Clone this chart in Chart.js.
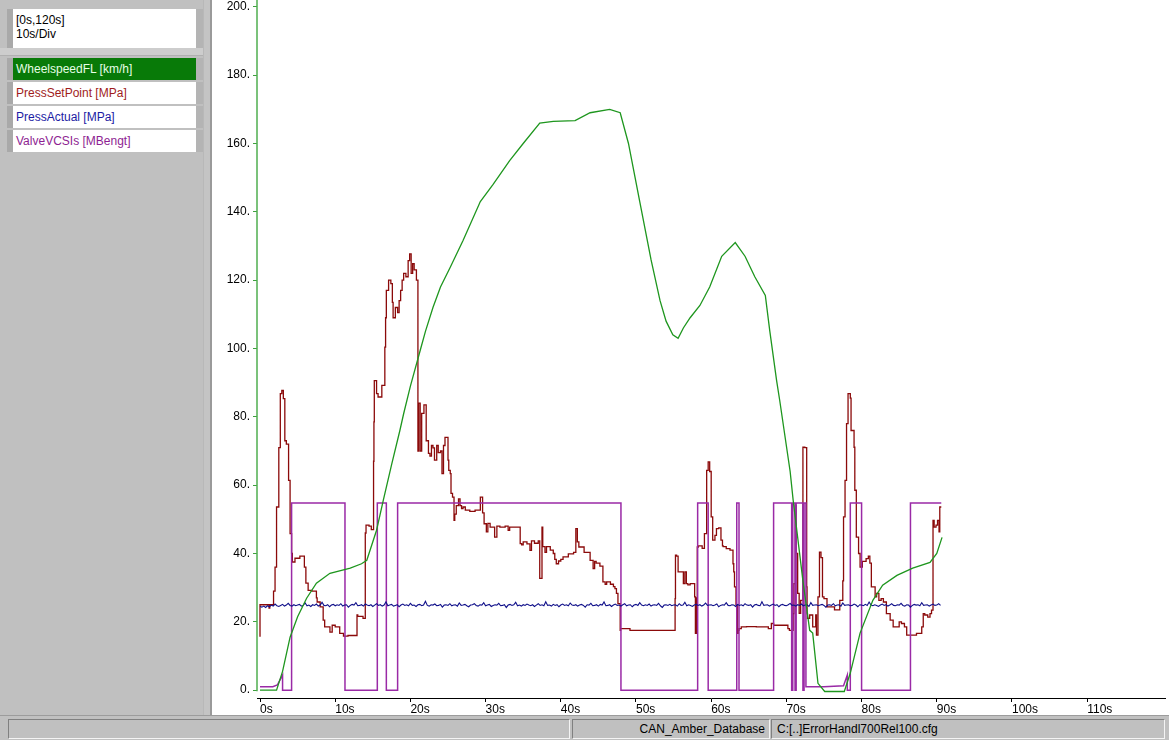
<!DOCTYPE html>
<html>
<head>
<meta charset="utf-8">
<script src="https://cdn.jsdelivr.net/npm/chart.js@4/dist/chart.umd.min.js"></script>
<style>
  html, body { margin: 0; padding: 0; }
  body {
    width: 1169px; height: 740px; overflow: hidden; position: relative;
    background: #c0c0c0; font-family: "Liberation Sans", Arial, sans-serif; font-size: 12px;
  }
  .abs { position: absolute; box-sizing: border-box; }
  #side { left: 0; top: 0; width: 203px; height: 715px; background: #c0c0c0; }
  .box {
    position: absolute; left: 7px; width: 196px; background: #fff;
    border-left: 6px solid #a9a9a9; border-right: 7px solid #b4b4b4; box-sizing: border-box;
    padding-left: 3px; white-space: nowrap;
  }
  #range { top: 9px; height: 39px; line-height: 14px; padding-top: 4px; color: #000; }
  .row { height: 22px; line-height: 22px; }
  #sep { left: 0; top: 48px; width: 203px; height: 8px; background: #cdcdcd; border-bottom: 1px solid #b0b0b0; }
  #divider { left: 203px; top: 0; width: 9px; height: 715px; background: #c4c4c4; border-left: 1px solid #b8b8b8; border-right: 2px solid #9a9a9a; }
  #plot { left: 212px; top: 0; width: 957px; height: 715px; background: #fff; }
  #status { left: 0; top: 715px; width: 1169px; height: 25px; background: #c0c0c0; border-top: 1px solid #9c9c9c; }
  .pane {
    position: absolute; top: 3px; height: 20px; line-height: 19px; box-sizing: border-box;
    border-top: 1px solid #808080; border-left: 1px solid #808080;
    border-bottom: 1px solid #f4f4f4; border-right: 1px solid #f4f4f4; white-space: nowrap; color: #000;
  }
</style>
</head>
<body>
<div id="side" class="abs">
  <div id="range" class="box">[0s,120s]<br>10s/Div</div>
  <div id="sep" class="abs"></div>
  <div id="legend"></div>
</div>
<div id="divider" class="abs"></div>
<div id="plot" class="abs"><canvas id="chart" width="957" height="715"></canvas></div>
<div id="status" class="abs">
  <div class="pane" style="left:8px; width:562px;"></div>
  <div class="pane" style="left:572px; width:198px; text-align:right; padding-right:4px;">CAN_Amber_Database</div>
  <div class="pane" style="left:771px; width:394px; padding-left:5px;">C:[..]ErrorHandl700Rel100.cfg</div>
</div>

<script>
// ---- channel names and units ----
const channelNames = ['WheelspeedFL [km/h]', 'PressSetPoint [MPa]', 'PressActual [MPa]', 'ValveVCSIs [MBengt]'];
const channelColors = ['#1e961e', '#8b0a0a', '#10108a', '#9a2aa6'];
const channelTextColors = ['#e6ffe6', '#a01c1c', '#1c1ca4', '#8e1e92'];

// ---- time axis ----
const timeTicks = [0, 10, 20, 30, 40, 50, 60, 70, 80, 90, 100, 110];
const valueTicks = [0, 20, 40, 60, 80, 100, 120, 140, 160, 180, 200];

// ---- WheelspeedFL [km/h] ----
const wheelTime = [0, 2.2, 3.0, 4.0, 5.0, 6.2, 7.5, 9.3, 12.0, 13.5, 14.2, 15.5, 16.4, 17.5, 18.6, 19.1, 20.0,
  21.3, 22.0, 23.0, 24.0, 25.3, 27.0, 29.3, 31.0, 33.2, 35.0, 37.2, 39.0, 41.9, 43.9, 46.5, 47.9,
  49.0, 50.5, 52.0, 53.2, 54.0, 54.9, 55.6, 56.3, 57.2, 58.5, 59.8, 61.4, 63.2, 64.5, 65.8, 67.2,
  67.8, 68.7, 69.1, 70.5, 70.9, 72.2, 73.1, 73.5, 74.2, 75.1, 77.7, 78.5, 79.8, 81.5, 82.8, 84.7,
  86.8, 89.1, 90.0, 90.7];
const wheelSpeed = [0, 0, 5.5, 15.5, 21.5, 26.9, 31.3, 34.2, 35.7, 37, 38, 46.8, 55.6, 66, 76, 80.9, 89,
  99.4, 105, 112, 118, 123.8, 131.6, 143, 148, 155, 160, 166, 166.5, 166.7, 169, 170, 169,
  160, 143, 126, 114, 108, 104, 103, 106, 109, 112.6, 118, 127, 131, 127, 121, 115.5,
  105, 90.6, 85, 64, 55.6, 32, 17.5, 16.7, 2, -0.4, -0.4, 5, 16.7, 26.3, 30.7, 33.6,
  35.7, 37.4, 40, 44.7];

// ---- PressSetPoint [MPa] ----
const setTime = [0, 0.05, 1.2, 1.3, 1.5, 1.8, 2.0, 2.2, 2.5, 2.7, 2.9, 3.1, 3.3, 3.5, 3.8, 4.0, 4.2, 4.3, 4.65,
  5.3, 5.9, 6.1, 6.4, 6.9, 7.5, 7.6, 8.0, 8.4, 8.6, 9.3, 9.6, 10.0, 10.6, 11.1, 11.7, 12.6, 12.9,
  13.0, 13.7, 14.0, 14.1, 14.2, 14.5, 14.8, 15.1, 15.15, 15.2, 15.5, 15.7, 16.2, 16.6, 16.7, 16.8,
  17.1, 17.4, 17.6, 17.7, 18.0, 18.3, 18.5, 18.7, 18.9, 19.1, 19.4, 19.7, 19.9, 20.1, 20.3, 20.5,
  20.8, 21.0, 21.1, 21.3, 21.5, 21.8, 22.1, 22.4, 22.6, 22.8, 23.0, 23.2, 23.5, 23.7, 24.0, 24.2,
  24.4, 24.6, 24.8, 25.0, 25.1, 25.3, 25.4, 25.6, 25.8, 25.9, 26.1, 26.4, 26.6, 26.8, 27.0, 27.3,
  27.9, 28.6, 29.3, 29.6, 29.8, 30.1, 30.3, 30.6, 31.2, 31.5, 31.9, 32.6, 33.0, 33.2, 33.7, 34.1,
  34.6, 34.8, 35.0, 35.5, 35.9, 36.1, 36.5, 37.0, 37.2, 37.5, 37.6, 37.9, 38.1, 38.6, 39.0, 39.2,
  39.4, 39.7, 40.0, 40.3, 41.0, 41.7, 42.0, 42.2, 42.4, 42.7, 43.1, 43.4, 43.9, 44.3, 44.5, 44.7,
  45.2, 45.6, 45.9, 46.1, 46.6, 47.0, 47.2, 47.4, 47.6, 47.9, 47.95, 49.2, 55.2, 55.25, 55.4, 55.6,
  55.9, 56.3, 56.5, 56.7, 56.9, 57.2, 57.8, 57.9, 58.05, 58.15, 58.3, 58.8, 59.1, 59.4, 59.6, 59.8,
  60.0, 60.2, 60.5, 60.7, 61.0, 61.3, 61.5, 61.6, 62.0, 62.5, 62.9, 63.0, 63.1, 63.3, 63.5, 63.6,
  63.7, 64.0, 64.7, 66.0, 67.6, 68.0, 68.3, 70.2, 70.4, 70.9, 71.0, 71.2, 71.3, 71.5, 71.7, 71.9,
  72.2, 72.45, 72.7, 72.75, 72.8, 73.1, 73.5, 73.9, 74.0, 74.2, 74.4, 74.6, 74.8, 75.0, 75.4, 75.7,
  76.4, 76.8, 77.1, 77.5, 77.6, 77.8, 78.0, 78.2, 78.5, 78.6, 78.8, 79.0, 79.1, 79.3, 79.6, 79.8,
  80.1, 80.3, 80.6, 80.9, 81.1, 81.3, 81.6, 81.8, 82.0, 82.3, 82.6, 82.9, 83.3, 83.8, 84.2, 84.7,
  85.0, 85.3, 85.7, 86.0, 86.2, 87.3, 88.0, 88.2, 88.4, 88.8, 89.1, 89.3, 89.5, 89.65, 89.9, 90.1,
  90.3, 90.4, 90.6];
const setPressure = [15.6, 25, 25, 24, 25, 25, 29, 36, 53.6, 71, 86.8, 87.7, 85.3, 73, 72, 61.4, 45.8, 40, 37.5,
  38.6, 39.2, 36, 31.3, 29.2, 29, 27, 25.8, 24.4, 20.5, 18.5, 17, 19, 18.5, 16.6, 15.8, 16, 16,
  22, 21.6, 21, 46, 48.3, 48.3, 48, 47, 67, 78.5, 90.6, 86.8, 85.8, 89.2, 100.4, 109,
  117, 120, 119, 113.5, 109, 112, 110.5, 114, 117, 120, 122, 121, 125.7, 127.7, 122, 124.8,
  123, 120, 70, 84, 70, 81, 83.5, 73, 69.3, 68.5, 71.6, 70.9, 67.3, 71.6, 69.5, 70,
  63.4, 71.6, 74, 74, 67.3, 64.3, 63.4, 57.6, 56.5, 49.7, 51.5, 54, 56, 54, 53.1, 53.6,
  52.7, 52.3, 52.7, 56.5, 51.9, 48.7, 46.3, 48.8, 47.7, 44.8, 48, 47.7, 48, 46.8, 47.7, 47.7,
  47.7, 42.9, 42.5, 43.4, 42.8, 40.9, 43.7, 43, 43.7, 32.7, 47.7, 42, 40.3, 42, 41, 40,
  38.3, 37, 37.8, 38.3, 39, 39.9, 40.3, 47.3, 43.4, 41.9, 41.9, 40.3, 40.3, 38, 35.6, 37.7,
  37.2, 36.3, 31.7, 31, 31.7, 31, 30.3, 29.7, 28.3, 25.3, 17.5, 18, 17.5, 26.8, 39.5, 39.2,
  34.6, 34.6, 31.2, 34.6, 31.2, 30.8, 31.2, 27.3, 16.6, 27, 41.9, 42.2, 41.5, 45.8, 64.3, 66.8,
  64, 50.7, 43.9, 45.3, 47.3, 47.5, 43.9, 42.2, 42, 41.4, 41, 37, 34.6, 30.2, 25, 16.6,
  17.5, 18, 18.5, 18.6, 18.5, 18, 19.5, 19, 18, 17.5, 22.4, 31.2, 54, 40, 28.3, 22.5,
  26.3, 71.1, 71, 30.2, 22.4, 21, 22, 18.5, 22, 16.1, 27.3, 40.4, 38.8, 27.3, 26.8, 24.4,
  24.4, 23.5, 23.5, 26.3, 32, 50.7, 61.4, 78, 86.8, 85.5, 76, 76, 71.1, 58.5, 44.8, 40,
  36, 37.7, 37.7, 38.5, 39.2, 37.2, 30.2, 30.2, 27.3, 28.3, 26.3, 26.8, 25.8, 22.4, 20.5, 18.5,
  18.5, 20, 19.5, 18.5, 16.1, 16.1, 16.6, 18.5, 22.4, 22, 21.4, 22.4, 23.4, 49.7, 47.7, 48.3,
  49.7, 46.3, 53.6];

// ---- PressActual [MPa], sampled every 0.25 s from 0 s ----
const actualStart = 0;
const actualStep = 0.25;
const actualPressure = [
  24.5, 24.3, 24.6, 24.2, 24.7, 24.4, 24.9, 24.6, 25.2, 24.7, 24.5, 24.8, 25.1, 24.6, 24.9, 25.4, 24.8, 24.6, 25.0, 24.7,
  24.9, 25.1, 24.6, 24.8, 25.5, 24.7, 24.9, 24.5, 25.0, 24.8, 25.2, 24.6, 24.9, 25.7, 24.8, 24.7, 25.0, 24.4, 24.9, 25.1,
  24.7, 25.0, 24.8, 25.3, 24.6, 24.9, 25.0, 24.3, 24.8, 25.1, 24.9, 25.6, 24.7, 24.8, 25.0, 24.6, 25.2, 24.9, 24.7, 25.0,
  24.5, 24.9, 25.3, 24.8, 25.0, 24.6, 24.9, 25.8, 24.7, 24.9, 25.1, 24.6, 24.8, 25.0, 24.4, 24.9, 25.2, 24.8, 25.0, 24.7,
  25.4, 24.8, 24.9, 24.5, 25.0, 25.1, 24.7, 24.9, 26.0, 24.8, 24.6, 25.0, 24.9, 25.2, 24.7, 24.8, 25.1, 24.3, 24.9, 25.0,
  24.8, 25.3, 24.7, 24.9, 25.0, 24.6, 25.5, 24.8, 24.9, 25.1, 24.7, 24.4, 24.9, 25.0, 25.3, 24.8, 24.6, 25.0, 24.9, 25.6,
  24.7, 24.9, 25.1, 24.5, 24.8, 25.0, 24.9, 25.4, 24.7, 24.8, 25.0, 24.2, 24.9, 25.1, 24.8, 25.0, 25.7, 24.7, 24.9, 24.6,
  25.0, 24.8, 25.2, 24.9, 24.7, 25.0, 24.5, 24.9, 25.3, 24.8, 25.0, 24.7, 25.9, 24.8, 24.9, 24.6, 25.1, 24.8, 25.0, 24.4,
  24.9, 25.2, 24.8, 25.0, 24.7, 25.5, 24.9, 24.8, 25.0, 24.6, 24.9, 25.1, 24.8, 24.3, 25.0, 24.9, 25.4, 24.7, 24.8, 25.0,
  24.6, 25.1, 24.9, 25.8, 24.7, 24.8, 25.0, 24.5, 24.9, 25.2, 24.8, 24.9, 24.6, 25.0, 25.3, 24.7, 24.9, 25.0, 24.4, 24.9,
  25.1, 24.8, 25.6, 24.9, 24.7, 25.0, 24.8, 25.2, 24.6, 24.9, 25.0, 24.8, 25.4, 24.7, 24.2, 24.9, 25.0, 24.8, 25.1, 24.7,
  24.9, 25.0, 24.6, 25.3, 24.8, 24.9, 25.7, 24.7, 25.0, 24.8, 24.5, 24.9, 25.1, 24.8, 25.0, 24.6, 24.9, 25.5, 24.8, 24.9,
  25.0, 24.7, 24.9, 25.2, 24.4, 24.8, 25.0, 24.9, 25.6, 24.8, 24.7, 25.0, 24.9, 24.5, 25.1, 24.8, 25.0, 24.7, 25.3, 24.9,
  24.8, 25.0, 24.3, 24.9, 25.1, 24.8, 24.7, 25.9, 24.8, 24.9, 25.0, 24.6, 24.9, 25.2, 24.8, 25.0, 24.4, 24.9, 25.1, 24.8,
  24.7, 25.0, 25.4, 24.8, 24.9, 24.6, 25.0, 24.8, 25.2, 24.7, 24.9, 25.0, 24.5, 25.6, 24.8, 24.9, 25.0, 24.7, 24.9, 25.1,
  24.8, 24.3, 24.9, 25.0, 24.8, 25.3, 24.7, 24.9, 25.0, 24.6, 25.5, 24.8, 24.9, 25.0, 24.7, 24.8, 25.2, 24.9, 24.4, 25.0,
  24.9, 24.7, 25.1, 24.8, 25.8, 24.9, 24.7, 25.0, 24.8, 24.5, 24.9, 25.2, 24.8, 25.0, 24.6, 24.9, 25.3, 24.8, 24.7, 25.0,
  24.9, 25.4, 24.8, 24.6, 25.0, 24.9, 24.3, 24.8, 25.1, 24.9, 25.0, 24.7, 25.6, 24.8, 24.9, 25.0, 24.6, 24.9, 25.2, 24.8,
  24.9, 25.3, 24.8
];

// ---- ValveVCSIs [MBengt] (switching signal) ----
const valveTime = [0, 1.7, 2.3, 3.0, 3.0, 4.2, 4.2, 11.3, 11.3, 15.6, 15.6, 16.8, 16.8, 18.3, 18.3,
  48.0, 48.0, 58.2, 58.2, 59.6, 59.6, 63.4, 63.4, 63.7, 63.7, 68.3, 68.3, 70.7, 70.7, 70.85, 70.85,
  71.15, 71.15, 71.3, 71.3, 72.2, 72.2, 72.35, 72.35, 72.6, 72.6, 75.0, 77.6, 78.1, 78.1, 78.5, 78.5,
  80.0, 80.0, 86.5, 86.5, 90.6];
const valveState = [1, 1, 1.5, 4.4, 0, 0, 54.8, 54.8, 0, 0, 54.8, 54.8, 0, 0, 54.8,
  54.8, 0, 0, 54.8, 54.8, 0, 0, 54.8, 54.8, 0, 0, 54.8, 54.8, 0, 0, 54.8,
  54.8, 0, 0, 54.8, 54.8, 0, 0, 54.8, 54.8, 1, 1, 1.3, 4.4, 0, 0, 54.8,
  54.8, 0, 0, 54.8, 54.8];

// ---- legend panel ----
const legendTops = [58, 82, 106, 130];
const legend = document.getElementById('legend');
channelNames.forEach((name, i) => {
  const row = document.createElement('div');
  row.className = 'box row';
  row.style.top = legendTops[i] + 'px';
  row.textContent = name;
  row.style.color = channelTextColors[i];
  if (i === 0) { row.style.background = '#087a08'; }
  legend.appendChild(row);
});

const pairs = (xs, ys) => xs.map((x, i) => ({ x, y: ys[i] }));
const actualSeries = actualPressure.map((v, i) => ({ x: actualStart + i * actualStep, y: v }));

// vertical value axis drawn from 0 upwards in the channel colour
const valueAxisLine = {
  id: 'valueAxisLine',
  beforeDatasetsDraw(chart) {
    const ys = chart.scales.y;
    const ctx = chart.ctx;
    ctx.save();
    ctx.strokeStyle = '#4fae4f';
    ctx.lineWidth = 1.5;
    ctx.beginPath();
    ctx.moveTo(ys.right, ys.getPixelForValue(0) + 1);
    ctx.lineTo(ys.right, chart.chartArea.top);
    ctx.stroke();
    ctx.restore();
  }
};

const tickFont = { family: '"Liberation Sans", Arial, sans-serif', size: 12 };

new Chart(document.getElementById('chart'), {
  type: 'line',
  data: {
    datasets: [
      { label: channelNames[0], data: pairs(wheelTime, wheelSpeed), borderColor: channelColors[0], borderWidth: 1.3, order: 0 },
      { label: channelNames[2], data: actualSeries, borderColor: channelColors[2], borderWidth: 1.1, order: 1 },
      { label: channelNames[3], data: pairs(valveTime, valveState), borderColor: channelColors[3], borderWidth: 1.5, order: 2 },
      { label: channelNames[1], data: pairs(setTime, setPressure), borderColor: channelColors[1], borderWidth: 1.3, stepped: 'after', order: 3 }
    ]
  },
  options: {
    responsive: false,
    animation: false,
    events: [],
    layout: { padding: { left: 0, right: 4, top: 0, bottom: 0 } },
    elements: { point: { radius: 0 }, line: { tension: 0, fill: false } },
    plugins: { legend: { display: false }, tooltip: { enabled: false } },
    scales: {
      x: {
        type: 'linear', position: 'bottom', min: -0.4, max: 120.35,
        afterBuildTicks: s => { s.ticks = timeTicks.map(v => ({ value: v })); },
        afterFit: s => { s.height = 17; s.paddingLeft = 0; s.paddingRight = 0; },
        border: { display: true, color: '#000', width: 1 },
        grid: { drawOnChartArea: false, drawTicks: true, tickLength: 4, tickColor: '#000', tickWidth: 1 },
        ticks: { align: 'start', padding: 0, color: '#000', font: tickFont, maxRotation: 0, autoSkip: false,
                 callback: v => v + 's' }
      },
      y: {
        type: 'linear', position: 'left', min: -2.3, max: 202,
        afterBuildTicks: s => { s.ticks = valueTicks.map(v => ({ value: v })); },
        afterFit: s => { s.width = 45; s.paddingTop = 0; s.paddingBottom = 0; },
        border: { display: false },
        grid: { drawOnChartArea: false, drawTicks: true, tickLength: 4, tickColor: '#3f9f3f', tickWidth: 1 },
        ticks: { padding: 3, color: '#000', font: tickFont, autoSkip: false, callback: v => v + '.' }
      }
    }
  },
  plugins: [valueAxisLine]
});
</script>
</body>
</html>
